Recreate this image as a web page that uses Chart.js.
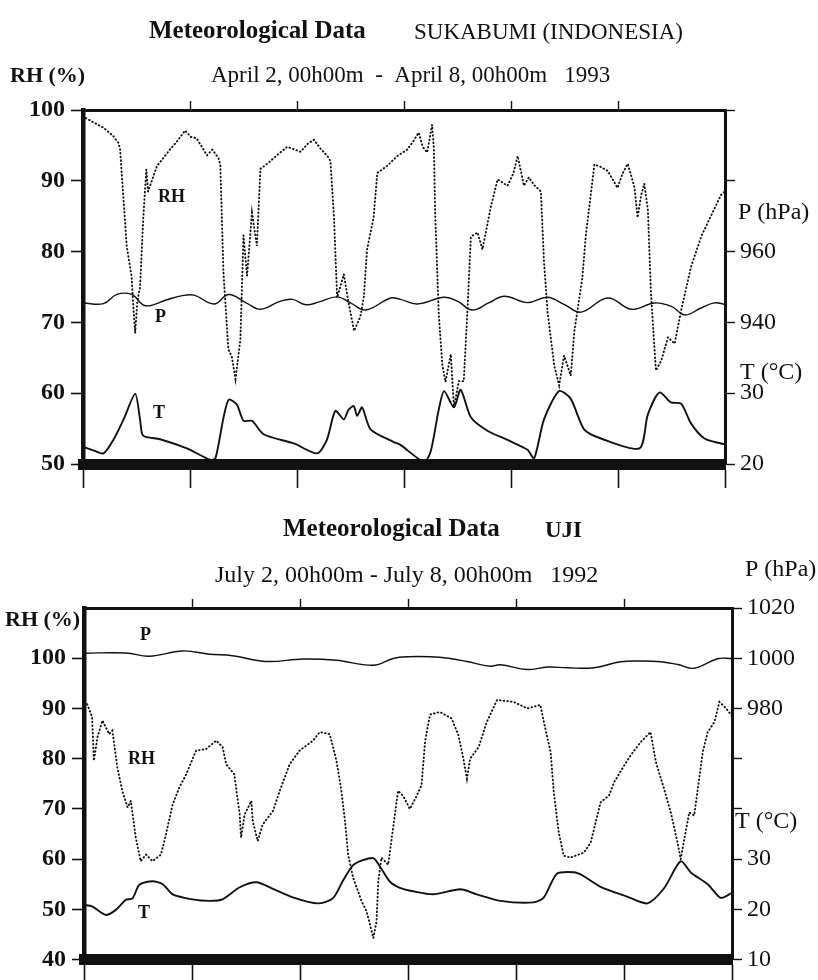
<!DOCTYPE html>
<html>
<head>
<meta charset="utf-8">
<title>Meteorological Data</title>
<script src="https://cdn.jsdelivr.net/npm/chart.js@4.4.1/dist/chart.umd.min.js"></script>
<style>
  html, body { margin: 0; padding: 0; background: #fff; }
  #wrap { position: relative; width: 818px; height: 980px; overflow: hidden; }
  canvas { position: absolute; left: 0; }
  #chartSukabumi { top: 0; }
  #chartUji { top: 490px; }
</style>
</head>
<body>
<div id="wrap">
  <canvas id="chartSukabumi" width="818" height="490" style="width:818px;height:490px"></canvas>
  <canvas id="chartUji" width="818" height="490" style="width:818px;height:490px"></canvas>
</div>
<script>
(function () {
  "use strict";

  const INK = "#111";
  const SERIF = '"Liberation Serif", "DejaVu Serif", serif';

  // ---- Sukabumi, April 2-8 1993 (hours since April 2, 00h00m) ----
  const SUK_RH_HOURS = [0, 0.5, 2.5, 4.6, 6.8, 7.9, 8.3, 9.8, 10.9, 11.3, 11.7, 12.2, 12.8, 13.5, 14.2, 14.6, 16.6, 18, 19.6, 21, 22.9,
    24.2, 25.5, 27.8, 29, 30.4, 30.8, 31.5, 32.6, 33.4, 34.2, 35.3, 36, 36.8, 37.9, 39, 39.8, 41.5, 43.5, 45.8,
    48.8, 50.5, 51.8, 53.2, 54.8, 55.5, 56.3, 57, 58.5, 59.5, 60.8, 62.2, 63, 63.7, 65.2, 66, 68.2, 70.5,
    72.7, 74, 75.3, 76.2, 77.2, 78.3, 78.7, 79, 79.8, 80.6, 81.3, 82.5, 83.2, 84.3, 85.4, 86.2, 87, 88.5, 89.6,
    91.5, 93, 95.2, 96.5, 97.5, 98.9, 100, 101.2, 102.7, 103.4, 104.2, 105.7, 106.8, 107.9, 109.4, 110.2,
    112, 112.8, 113.9, 114.7, 116, 117.7, 119.9, 121, 122.2, 123.7, 124.4, 125.2, 125.9, 126.7, 127.4,
    128.5, 129.7, 131.2, 132.7, 134.2, 136.4, 138.7, 140.9, 143.1, 144];
  const SUK_RH = [99.2, 98.9, 98.2, 97.5, 96.3, 95.4, 94.6, 80.8, 76.5, 72, 68.5, 73, 75, 84.5, 91.6, 88.5, 92.1, 93.2, 94.5, 95.5, 97.1,
    96.2, 96, 93.6, 94.4, 93.2, 92.2, 77.1, 66.2, 65.1, 62, 67.6, 82.3, 76.6, 85.5, 80.8, 91.7, 92.5, 93.6, 94.8,
    94.1, 95.3, 95.8, 94.6, 93.5, 92.8, 84.8, 73.5, 76.8, 73, 68.8, 70.8, 73.6, 80.2, 84.9, 91.1, 92.1, 93.5,
    94.4, 95.5, 96.8, 94.8, 94, 97.9, 94.6, 85.3, 71.1, 64, 61.6, 65.5, 58, 61.7, 61.7, 71.3, 82.1, 82.7, 80.3,
    86.4, 90.2, 89.3, 91, 93.5, 89.3, 90.5, 89.4, 88.5, 78.6, 71.5, 63.9, 61.1, 65.3, 62.5, 68.7,
    76.3, 82.4, 88.1, 92.3, 92, 91.4, 89, 91, 92.4, 89.1, 84.8, 88, 89.6, 85.9, 74,
    63.2, 64.6, 67.9, 67, 71.8, 77.9, 82.2, 85.1, 88, 88.5];

  const SUK_P_HOURS = [0, 4.6, 7.6, 10.9, 14, 18.8, 22, 24.9, 29.4, 32.7, 36.8, 39.8, 44.3, 47, 50, 53, 57, 60, 63.4, 69,
    71.2, 75, 81, 84, 87.3, 91, 94.5, 99.7, 104.2, 108, 111.7, 117.7, 123, 128.2, 132, 135, 138.5, 141.6, 144];
  const SUK_P = [945.5, 945.3, 947.9, 947.9, 944.7, 946.4, 947.5, 947.7, 945.2, 947.9, 945.4, 943.7, 946, 946.5, 945, 945.8, 947.2, 945.5, 943.5, 946.9,
    946.5, 945.2, 947.1, 946, 943.5, 945.5, 947.4, 945.6, 947.1, 945, 942.9, 946.9, 943.7, 945.5, 944.5, 942.1, 944, 945.5, 945.1];

  const SUK_T_HOURS = [0, 2, 4.6, 6.8, 9.1, 11.7, 12.8, 13.5, 17.3, 23.3, 28.5, 29.7, 31.5, 32.7, 34.5, 36, 37.9, 40.5, 47.3,
    52.5, 54.7, 56.6, 58.5, 59.5, 60.7, 61.5, 62.6, 64.5, 69.7, 71.2, 76.5, 78, 79.8, 81, 83.2, 84.7, 87, 90.7, 95.2,
    99.7, 101.2, 103.4, 106.8, 109.4, 112.4, 116.2, 124.8, 126.7, 129.3, 131.9, 134.2, 136.4, 139.4, 143.1, 144];
  const SUK_T = [22.4, 22.0, 21.5, 23.4, 26.3, 29.9, 26.3, 24, 23.5, 22.2, 20.6, 20.8, 26.5, 29.1, 28.4, 26.1, 26.1, 24.2, 22.9,
    21.5, 23.4, 27.5, 26.3, 27.6, 28.2, 26.8, 28, 24.9, 23.1, 22.7, 20.3, 21.8, 27.7, 30.3, 28, 30.5, 26.6, 24.7, 23.4,
    22, 20.8, 26.3, 30.3, 29.2, 24.9, 23.6, 22.2, 27, 30.1, 28.7, 28.5, 25.7, 23.6, 22.9, 22.8];

  // right-hand axis: pressure ticks, with the temperature labels sharing the same marks
  const SUK_RIGHT_TICKS = [900, 920, 940, 960, 980, 1000];
  const SUK_RIGHT_LABELS = ["20", "30", "940", "960", "", ""];

  // ---- Uji, July 2-8 1992 ----
  const UJI_RH_HOURS = [0, 0.7, 1.8, 2.2, 3, 4.1, 5.6, 6.3, 7.4, 8.5, 9.7, 10.4, 11.5, 12.6, 13.8, 15.2, 17.1, 18.2, 19.7, 21.2,
    22.7, 24.9, 27.1, 29.4, 30.8, 31.6, 33.4, 34.6, 34.9, 35.7, 37.2, 37.5, 38.6, 39.7, 42, 43.5, 45.7, 47.9, 50.9,
    52.4, 54.6, 56.1, 57.2, 58, 58.7, 59.8, 61.7, 62.8, 64.3, 65, 65.4, 66.1, 67.6, 68.7, 69.8, 71, 72.4, 73.6,
    75, 75.8, 76.9, 79.1, 81.7, 83.2, 84.3, 85.1, 85.8, 87.7, 89.5, 91.8, 95.5, 98.5, 101.4, 102.2, 103.7, 104.4,
    105.5, 106.6, 108.1, 111.1, 112.6, 114.8, 116.7, 117.8, 119.6, 121.5, 123.7, 125.9, 127.1, 128.9, 130.4,
    131.9, 132.6, 133.4, 134.5, 135.6, 136.4, 137.5, 138.6, 140.1, 141.2, 142.7, 144];
  const UJI_RH = [90.6, 90.9, 88.3, 79.6, 84.3, 87.6, 84.9, 85.6, 78.3, 73.6, 70.3, 71.6, 64.3, 59.6, 60.9, 59.6, 60.9, 64.9, 70.9, 74.3,
    76.9, 81.6, 81.9, 83.6, 82.3, 78.9, 76.9, 68.9, 64.3, 68.9, 71.6, 67.6, 63.6, 66.9, 69.6, 73.6, 78.9, 81.6, 83.6,
    85.3, 84.9, 79.6, 73.6, 67.6, 60.9, 56.3, 51.6, 49.6, 44.3, 47.6, 55.6, 60.3, 58.9, 66.3, 73.6, 72.5, 70, 72,
    74.7, 83.5, 88.8, 89.3, 88, 84.7, 80, 76, 80, 82.3, 87.3, 91.7, 91.3, 90, 90.7, 87.3, 81.3, 73.3,
    65.3, 60.7, 60.3, 61.3, 63.3, 71.3, 72.7, 75.3, 78, 80.7, 83.3, 85.3, 79.3, 74, 69.3,
    63.3, 60, 64, 69.3, 68.7, 74, 81.3, 85.3, 87.3, 91.3, 90, 88.5];

  const UJI_P_HOURS = [0, 9.3, 14.5, 21.9, 27.9, 33, 40.5, 48.7, 56.1, 64.3, 68.7, 72, 76.9, 81, 85.1, 90.3, 92.5, 98.5,
    103, 107.4, 113.3, 119.3, 124, 128.2, 132, 135.6, 140.8, 144];
  const UJI_P = [1002, 1002.1, 1000.8, 1002.9, 1001.6, 1001, 998.7, 999.7, 999.2, 997.2, 999.9, 1000.6, 1000.6, 1000, 998.7, 996.8, 997.4, 995.5,
    996.5, 996.2, 996.2, 998.6, 998.9, 998.6, 997.5, 996, 999.8, 999.9];

  const UJI_T_HOURS = [0, 1.8, 4.8, 7.1, 9.3, 10.8, 12.3, 15.2, 17.5, 19.7, 24.1, 27.9, 30.8, 34.6, 38.3, 42, 46.4, 52, 55.3,
    57.6, 59.8, 62, 64.3, 65.8, 68, 70.2, 73.2, 77.6, 83.6, 87.3, 92.5, 99.9, 102.2, 105.1, 108.9, 110.7, 114.8,
    120.8, 125.2, 128.9, 132.6, 134.9, 138.6, 141.5, 144];
  const UJI_T = [20.9, 20.6, 18.9, 19.9, 21.9, 22.2, 24.9, 25.6, 25, 23, 22, 21.7, 22, 24.4, 25.4, 24.1, 22.4, 21.2, 22.2,
    25.8, 28.8, 29.8, 30.2, 28.5, 25.5, 24.3, 23.6, 23, 24, 23, 21.7, 21.4, 22.4, 27.1, 27.4, 26.8, 24.5,
    22.5, 21.2, 24.2, 29.6, 27.3, 25, 22.3, 23.3];

  const UJI_RIGHT_TICKS = [880, 900, 920, 940, 960, 980, 1000, 1020];
  const UJI_RIGHT_LABELS = ["10", "20", "30", "", "", "980", "1000", "1020"];

  const DAY_TICKS = [0, 24, 48, 72, 96, 120, 144];

  function pts(xs, ys) {
    return xs.map((x, i) => ({ x: x, y: ys[i] }));
  }

  const figText = {
    id: "figText",
    afterDraw(chart, args, opts) {
      const ctx = chart.ctx;
      ctx.save();
      ctx.fillStyle = INK;
      ctx.textBaseline = "middle";
      (opts.items || []).forEach((it) => {
        ctx.font = it.font;
        ctx.textAlign = it.align || "left";
        ctx.fillText(it.text, it.x, it.y);
      });
      ctx.restore();
    }
  };

  function fixedTicks(values) {
    return (scale) => { scale.ticks = values.map((v) => ({ value: v })); };
  }

  function makePanel(id, p) {
    const canvas = document.getElementById(id);
    if (!canvas || typeof Chart === "undefined") return null;

    const tickGrid = (len, w) => ({
      drawOnChartArea: false, drawTicks: true, tickLength: len, tickWidth: w, color: INK
    });

    return new Chart(canvas, {
      type: "line",
      plugins: [figText],
      data: {
        datasets: [
          {
            label: "RH", yAxisID: "y", data: pts(p.rhHours, p.rh),
            borderColor: INK, borderWidth: 1.9, borderDash: [0.6, 3.1], borderCapStyle: "round",
            pointRadius: 0, tension: 0
          },
          {
            label: "P", yAxisID: "yP", data: pts(p.pHours, p.p),
            borderColor: INK, borderWidth: 1.4, pointRadius: 0, tension: 0.4
          },
          {
            label: "T", yAxisID: "yT", data: pts(p.tHours, p.t),
            borderColor: INK, borderWidth: 1.9, pointRadius: 0, tension: 0.25
          }
        ]
      },
      options: {
        responsive: false,
        animation: false,
        events: [],
        layout: { autoPadding: false, padding: p.padding },
        plugins: {
          legend: { display: false },
          tooltip: { enabled: false },
          figText: { items: p.texts }
        },
        scales: {
          x: {
            type: "linear", position: "bottom", min: 0, max: 144,
            afterBuildTicks: fixedTicks(DAY_TICKS),
            afterFit: (s) => { s.height = p.bottomAxisH; },
            ticks: { display: false },
            grid: tickGrid(24, 1.6),
            border: { display: true, color: INK, width: 11 }
          },
          x2: {
            type: "linear", position: "top", min: 0, max: 144,
            afterBuildTicks: fixedTicks(DAY_TICKS.slice(1, -1)),
            afterFit: (s) => { s.height = 20; },
            ticks: { display: false },
            grid: tickGrid(9, 1.4),
            border: { display: true, color: INK, width: 3 }
          },
          y: {
            type: "linear", position: "left", min: p.rhMin, max: p.rhMax,
            afterBuildTicks: fixedTicks(p.rhTicks),
            afterFit: (s) => { s.width = p.leftAxisW; },
            ticks: {
              color: INK, padding: 6,
              font: { family: SERIF, size: 24, weight: "bold" }
            },
            grid: tickGrid(12, 1.6),
            border: { display: true, color: INK, width: 4.5 }
          },
          yP: {
            type: "linear", position: "right", min: p.pMin, max: p.pMax,
            afterBuildTicks: fixedTicks(p.rightTicks),
            afterFit: (s) => { s.width = p.rightAxisW; },
            ticks: {
              color: INK, padding: 5,
              font: { family: SERIF, size: 24 },
              callback: (v) => {
                const i = p.rightTicks.indexOf(v);
                return i < 0 ? "" : p.rightLabels[i];
              }
            },
            grid: tickGrid(10, 1.4),
            border: { display: true, color: INK, width: 3 }
          },
          yT: {
            type: "linear", display: false, min: p.tMin, max: p.tMax
          }
        }
      }
    });
  }

  const charts = [];

  charts.push(makePanel("chartSukabumi", {
    rhHours: SUK_RH_HOURS, rh: SUK_RH,
    pHours: SUK_P_HOURS, p: SUK_P,
    tHours: SUK_T_HOURS, t: SUK_T,
    rhMin: 50, rhMax: 100, rhTicks: [50, 60, 70, 80, 90, 100],
    pMin: 900, pMax: 1000, tMin: 20, tMax: 70,
    rightTicks: SUK_RIGHT_TICKS, rightLabels: SUK_RIGHT_LABELS,
    padding: { left: 0, right: 0, top: 90, bottom: 6 },
    leftAxisW: 83,
    rightAxisW: 93,
    bottomAxisH: 20,
    texts: [
      { text: "Meteorological Data", x: 149, y: 32, font: "bold 25px " + SERIF },
      { text: "SUKABUMI (INDONESIA)", x: 414, y: 33, font: "23px " + SERIF },
      { text: "April 2, 00h00m  -  April 8, 00h00m   1993", x: 211, y: 76, font: "23px " + SERIF },
      { text: "RH (%)", x: 10, y: 76, font: "bold 22px " + SERIF },
      { text: "RH", x: 158, y: 197, font: "bold 18px " + SERIF },
      { text: "P", x: 155, y: 317, font: "bold 18px " + SERIF },
      { text: "T", x: 153, y: 413, font: "bold 18px " + SERIF },
      { text: "P (hPa)", x: 738, y: 213, font: "24px " + SERIF },
      { text: "T (\u00B0C)", x: 740, y: 373, font: "24px " + SERIF }
    ]
  }));

  charts.push(makePanel("chartUji", {
    rhHours: UJI_RH_HOURS, rh: UJI_RH,
    pHours: UJI_P_HOURS, p: UJI_P,
    tHours: UJI_T_HOURS, t: UJI_T,
    rhMin: 40, rhMax: 110, rhTicks: [40, 50, 60, 70, 80, 90, 100],
    pMin: 880, pMax: 1020, tMin: 10, tMax: 80,
    rightTicks: UJI_RIGHT_TICKS, rightLabels: UJI_RIGHT_LABELS,
    padding: { left: 0, right: 0, top: 98, bottom: 0 },
    leftAxisW: 84,
    rightAxisW: 86,
    bottomAxisH: 19,
    texts: [
      { text: "Meteorological Data", x: 283, y: 40, font: "bold 25px " + SERIF },
      { text: "UJI", x: 545, y: 41, font: "bold 23px " + SERIF },
      { text: "July 2, 00h00m - July 8, 00h00m   1992", x: 215, y: 86, font: "24px " + SERIF },
      { text: "P (hPa)", x: 745, y: 80, font: "24px " + SERIF },
      { text: "RH (%)", x: 5, y: 130, font: "bold 22px " + SERIF },
      { text: "P", x: 140, y: 145, font: "bold 18px " + SERIF },
      { text: "RH", x: 128, y: 269, font: "bold 18px " + SERIF },
      { text: "T", x: 138, y: 423, font: "bold 18px " + SERIF },
      { text: "T (\u00B0C)", x: 735, y: 332, font: "24px " + SERIF }
    ]
  }));
})();
</script>
</body>
</html>
